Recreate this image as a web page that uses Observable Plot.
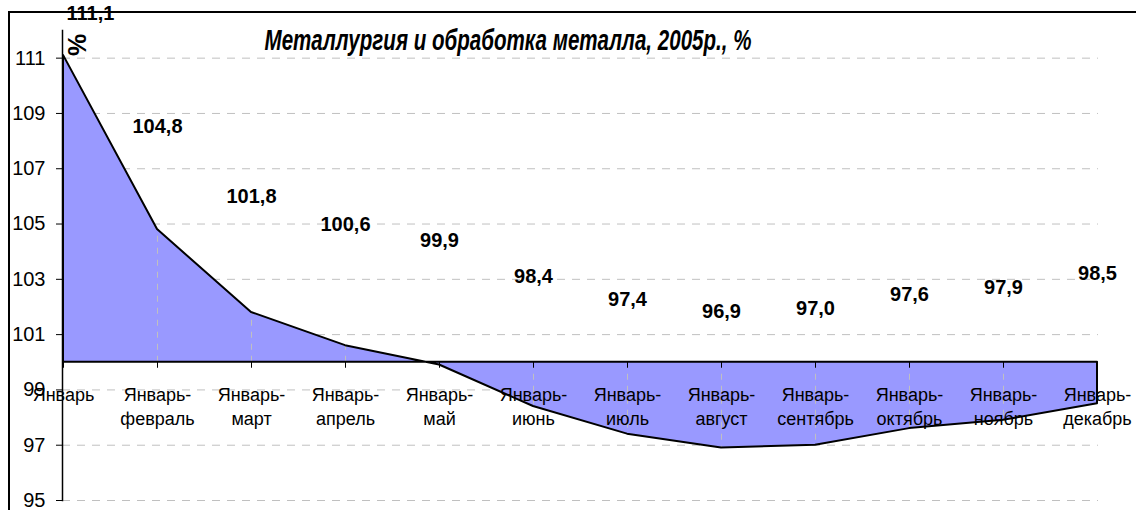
<!DOCTYPE html>
<html><head><meta charset="utf-8">
<script src="https://cdn.jsdelivr.net/npm/d3@7"></script>
<script src="https://cdn.jsdelivr.net/npm/@observablehq/plot@0.6"></script>
<style>
body{margin:0;background:#fff;}
#wrap{position:relative;width:1136px;height:510px;overflow:hidden;background:#fff;}
#border{position:absolute;left:8px;top:11px;width:1300px;height:700px;border:2px solid #000;box-sizing:border-box;pointer-events:none;}
#wrap svg{position:absolute;left:0;top:0;}
</style></head><body><div id="wrap"><div id="border"></div></div>
<script>
const categories = ["Январь","Январь-февраль","Январь-март","Январь-апрель","Январь-май","Январь-июнь","Январь-июль","Январь-август","Январь-сентябрь","Январь-октябрь","Январь-ноябрь","Январь-декабрь"];
const values = [111.1,104.8,101.8,100.6,99.9,98.4,97.4,96.9,97.0,97.6,97.9,98.5];
const yTicks = [95,97,99,101,103,105,107,109,111];
const yDomain = [95,112];
const baseline = 100;
const title = "Металлургия и обработка металла, 2005р., %";
const axisTitle = "%";

const data = categories.map((c,i)=>({category:c, value:values[i]}));
const fmt = v => v.toFixed(1).replace(".", ",");
// label placement rule (labels sit above the line, compressed toward the middle, kept inside the chart)
const labelLift = 4.47, labelSlope = 0.846, labelCeiling = 112.6;
const labelY = d => Math.min(baseline + labelLift + (d.value - baseline)*labelSlope, labelCeiling);

const font = "'Liberation Sans', Arial, sans-serif";
const plot = Plot.plot({
  width:1136, height:510,
  marginLeft:62, marginRight:38, marginTop:30, marginBottom:10,
  x:{type:"point", domain:categories, padding:0, axis:null},
  y:{domain:yDomain, axis:null},
  style:{fontFamily:font, fontSize:"18px", background:"transparent", color:"#000", overflow:"visible"},
  marks:[
    Plot.ruleY(yTicks, {stroke:"#c0c0c0", strokeDasharray:"8,7", strokeWidth:1}),
    Plot.areaY(data, {x:"category", y1:baseline, y2:"value", fill:"#9999ff"}),
    Plot.ruleX(data, {x:"category", y1:baseline, y2:"value", stroke:"#c0c0c0", strokeDasharray:"6,6", strokeWidth:1}),
    Plot.areaY(data, {x:"category", y1:baseline, y2:"value", fill:"none", stroke:"#000", strokeWidth:2}),
    Plot.ruleX(data, {x:"category", y1:baseline, y2:baseline, insetBottom:-6, stroke:"#000", strokeWidth:1}),
    Plot.axisY(yTicks, {label:null, tickSize:6, tickPadding:11, fontSize:20, stroke:"#000", fill:"#000", tickFormat:d=>String(d)}),
    Plot.frame({anchor:"left", stroke:"#000", strokeWidth:1.5}),
    Plot.text(categories, {x:d=>d, y:baseline, text:d=>d.replace("-","-\n"), dy:22, lineAnchor:"top", lineHeight:1.33, fontSize:18, fill:"#000"}),
    Plot.text(data.slice(1), {x:"category", y:labelY, text:d=>fmt(d.value), fontWeight:"bold", fontSize:20, fill:"#000"}),
    Plot.text(data.slice(0,1), {x:"category", y:labelY, text:d=>fmt(d.value), fontWeight:"bold", fontSize:20, fill:"#000", textAnchor:"start", dx:3})
  ]
});
const svg = d3.select(plot);
svg.append("text")
  .attr("x",508).attr("y",50)
  .attr("text-anchor","middle")
  .attr("font-family",font).attr("font-size",29).attr("font-weight","bold").attr("font-style","italic")
  .attr("textLength",487).attr("lengthAdjust","spacingAndGlyphs")
  .text(title);
svg.append("text")
  .attr("transform","translate(77,45) rotate(-90)")
  .attr("text-anchor","middle").attr("dominant-baseline","central")
  .attr("font-family",font).attr("font-size",25).attr("font-weight","bold")
  .text(axisTitle);
document.getElementById("wrap").appendChild(plot);
</script></body></html>
